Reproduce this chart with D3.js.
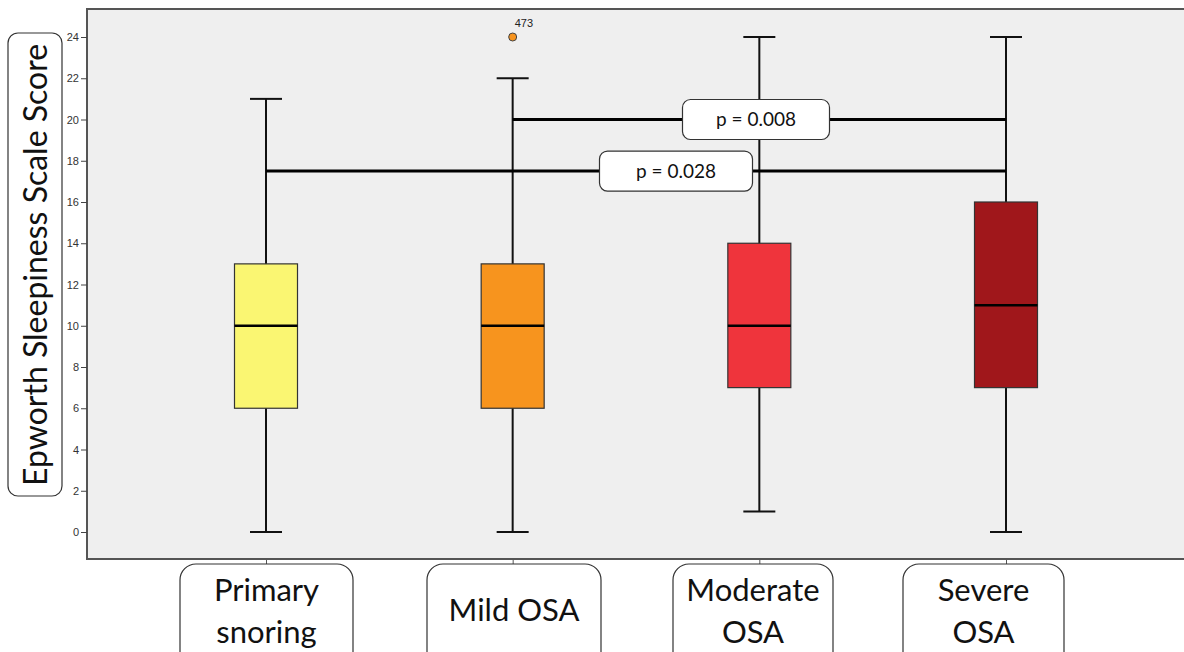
<!DOCTYPE html>
<html><head><meta charset="utf-8">
<script src="https://cdn.jsdelivr.net/npm/d3@7"></script>
<style>body{margin:0;background:#fff}svg{display:block}</style>
</head><body>
<svg id="c" width="1184" height="652"></svg>
<script>
const categories = ["Primary snoring", "Mild OSA", "Moderate OSA", "Severe OSA"];
const catLabels = [["Primary", "snoring"], ["Mild OSA"], ["Moderate", "OSA"], ["Severe", "OSA"]];
const mins = [0, 0, 1, 0];
const q1s = [6, 6, 7, 7];
const medians = [10, 10, 10, 11];
const q3s = [13, 13, 14, 16];
const maxs = [21, 22, 24, 24];
const colors = ["#faf672", "#f7941e", "#ef343c", "#a0171b"];
const outliers = [{cat: "Mild OSA", value: 24, label: "473"}];
const yTicks = [0, 2, 4, 6, 8, 10, 12, 14, 16, 18, 20, 22, 24];
const comparisons = [
  {from: "Mild OSA", to: "Severe OSA", y: 20, label: "p = 0.008"},
  {from: "Primary snoring", to: "Severe OSA", y: 17.5, label: "p = 0.028"}
];
const yTitle = "Epworth Sleepiness Scale Score";

const svg = d3.select("#c");
const plot = {left: 87, top: 9, right: 1190, bottom: 559};
const y = d3.scaleLinear().domain([0, 24]).range([532, 37]);
const x = d3.scalePoint().domain(categories).range([266, 1006]);

svg.append("rect").attr("x", plot.left).attr("y", plot.top)
  .attr("width", plot.right - plot.left).attr("height", plot.bottom - plot.top)
  .attr("fill", "#efefef").attr("stroke", "#555").attr("stroke-width", 2);

// y axis
const yAxis = d3.axisLeft(y).tickValues(yTicks).tickSize(6).tickPadding(2);
const ga = svg.append("g").attr("transform", `translate(${plot.left},0)`).call(yAxis);
ga.select(".domain").remove();
ga.selectAll("line").attr("stroke", "#444");
ga.selectAll("text").attr("font-family", "Liberation Sans, Arial").attr("font-size", 11).attr("fill", "#333");

// x ticks
const xAxis = d3.axisBottom(x).tickSize(7).tickFormat("");
const gx = svg.append("g").attr("transform", `translate(0,${plot.bottom})`).call(xAxis);
gx.select(".domain").remove();
gx.selectAll("line").attr("stroke", "#555");

const boxW = 63, capW = 32;
const data = categories.map((c, i) => ({c, min: mins[i], q1: q1s[i], med: medians[i], q3: q3s[i], max: maxs[i], col: colors[i]}));
const g = svg.append("g");
data.forEach(d => {
  const cx = x(d.c);
  g.append("line").attr("x1", cx).attr("x2", cx).attr("y1", y(d.max)).attr("y2", y(d.min)).attr("stroke", "#111").attr("stroke-width", 2);
  [d.min, d.max].forEach(v => g.append("line").attr("x1", cx - capW/2).attr("x2", cx + capW/2).attr("y1", y(v)).attr("y2", y(v)).attr("stroke", "#111").attr("stroke-width", 2));
  g.append("rect").attr("x", cx - boxW/2).attr("width", boxW).attr("y", y(d.q3)).attr("height", y(d.q1) - y(d.q3))
    .attr("fill", d.col).attr("stroke", "#333").attr("stroke-width", 1.2);
  g.append("line").attr("x1", cx - boxW/2).attr("x2", cx + boxW/2).attr("y1", y(d.med)).attr("y2", y(d.med)).attr("stroke", "#000").attr("stroke-width", 2.5);
});
outliers.forEach(o => {
  const cx = x(o.cat);
  g.append("circle").attr("cx", cx).attr("cy", y(o.value)).attr("r", 4).attr("fill", "#f7941e").attr("stroke", "#444").attr("stroke-width", 1);
  g.append("text").attr("x", cx + 2).attr("y", y(o.value) - 10).text(o.label)
    .attr("font-family", "Liberation Sans, Arial").attr("font-size", 11).attr("fill", "#222");
});

// comparison lines
const boxes = [{w: 147, h: 40, cx: 756}, {w: 153, h: 40, cx: 676}];
comparisons.forEach((cmp, i) => {
  const yy = y(cmp.y);
  svg.append("line").attr("x1", x(cmp.from)).attr("x2", x(cmp.to)).attr("y1", yy).attr("y2", yy).attr("stroke", "#000").attr("stroke-width", 3);
});
comparisons.forEach((cmp, i) => {
  const yy = y(cmp.y), b = boxes[i];
  svg.append("rect").attr("x", b.cx - b.w/2).attr("y", yy - b.h/2).attr("width", b.w).attr("height", b.h)
    .attr("rx", 8).attr("fill", "#fff").attr("stroke", "#333").attr("stroke-width", 1.2);
  svg.append("text").attr("x", b.cx).attr("y", yy).attr("dy", "0.35em").attr("text-anchor", "middle")
    .attr("font-family", "Lato, Open Sans, sans-serif").attr("font-size", 19).attr("fill", "#111").text(cmp.label);
});

// y title box
svg.append("rect").attr("x", 8).attr("y", 33).attr("width", 54).attr("height", 463).attr("rx", 10)
  .attr("fill", "#fff").attr("stroke", "#333").attr("stroke-width", 1.2);
svg.append("text").attr("transform", "translate(36,265) rotate(-90)").attr("text-anchor", "middle").attr("dy", "0.35em")
  .attr("font-family", "Lato, Open Sans, sans-serif").attr("font-size", 32).attr("fill", "#111").text(yTitle);

// category label boxes
const labBoxes = [{x0: 180, x1: 353}, {x0: 427, x1: 601}, {x0: 673, x1: 833}, {x0: 903, x1: 1064}];
catLabels.forEach((lines, i) => {
  const b = labBoxes[i];
  svg.append("rect").attr("x", b.x0).attr("y", 564).attr("width", b.x1 - b.x0).attr("height", 110).attr("rx", 16)
    .attr("fill", "#fff").attr("stroke", "#333").attr("stroke-width", 1.2);
  const cx = (b.x0 + b.x1) / 2;
  const t = svg.append("text").attr("text-anchor", "middle").attr("font-family", "Lato, Open Sans, sans-serif")
    .attr("font-size", 31).attr("fill", "#111");
  if (lines.length === 1) {
    t.append("tspan").attr("x", cx).attr("y", 621).text(lines[0]);
  } else {
    t.append("tspan").attr("x", cx).attr("y", 601).text(lines[0]);
    t.append("tspan").attr("x", cx).attr("y", 643).text(lines[1]);
  }
});
</script>
</body></html>
